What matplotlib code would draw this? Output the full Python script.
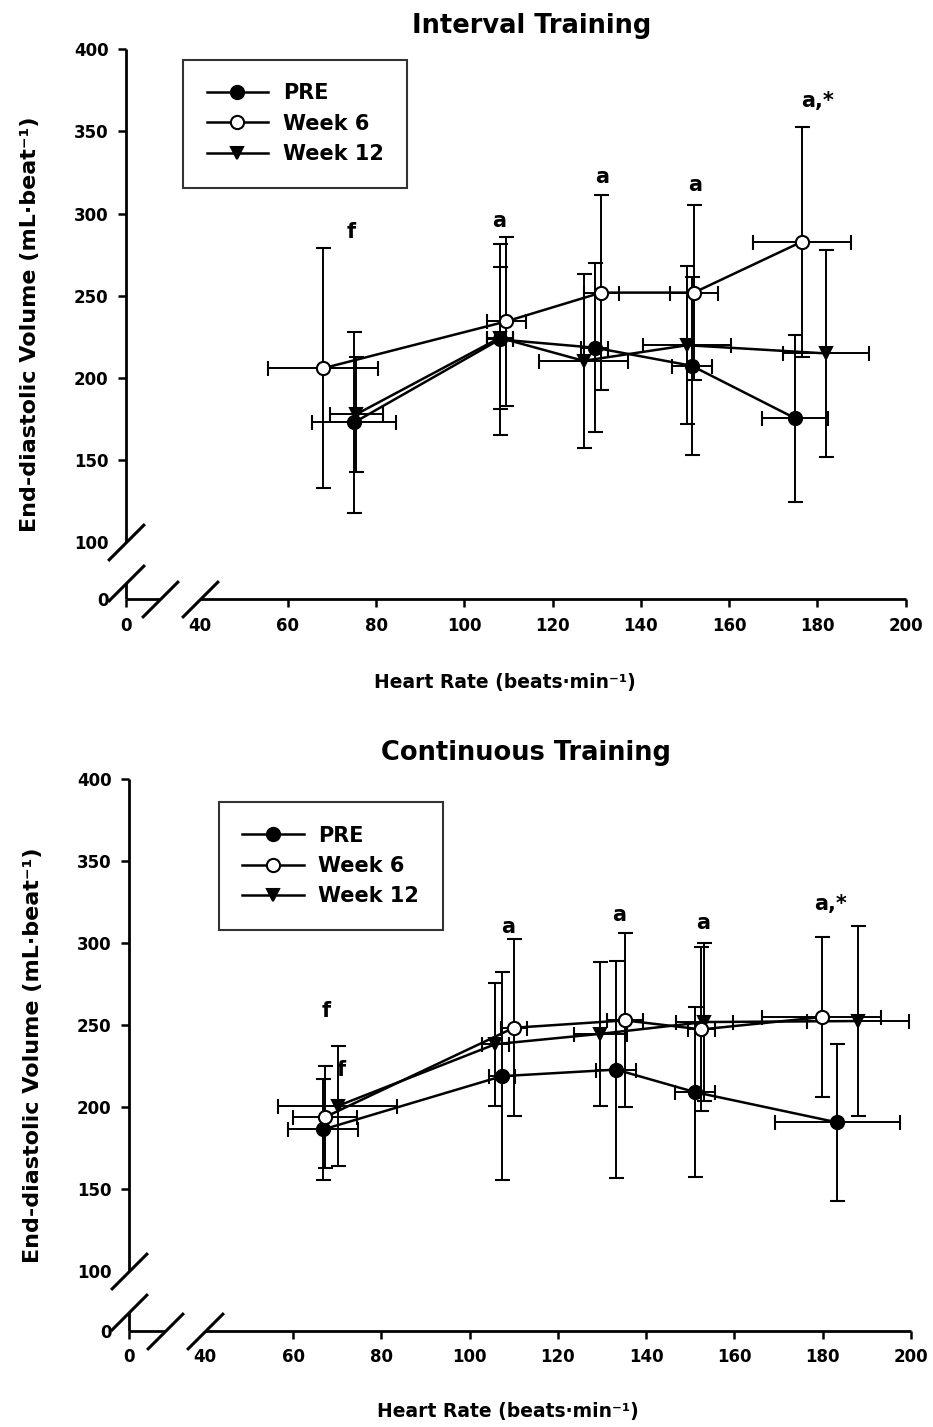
import matplotlib
matplotlib.use("Agg")
import matplotlib.pyplot as plt
from matplotlib.lines import Line2D
from matplotlib.path import Path

plt.rcParams['font.family'] = ['DejaVu Sans']
plt.rcParams['font.weight'] = 'bold'

# ---------------- data: Interval Training ----------------
int_pre_hr = [75, 108, 129.5, 151.5, 175]
int_pre_hr_sd = [9.5, 3, 3, 4.5, 7.5]
int_pre_edv = [173, 223.5, 218.5, 207.5, 175.5]
int_pre_edv_sd = [55, 58, 51.5, 54, 51]

int_w6_hr = [68, 109.5, 131, 152, 176.5]
int_w6_hr_sd = [12.5, 4.5, 4, 5.5, 11]
int_w6_edv = [206, 234.5, 252, 252, 283]
int_w6_edv_sd = [73, 51.5, 59.5, 53, 70]

int_w12_hr = [75.5, 108, 127, 150.5, 182]
int_w12_hr_sd = [6, 3, 10, 10, 9.7]
int_w12_edv = [178, 224.5, 210.5, 220, 215]
int_w12_edv_sd = [35, 43, 53, 48, 63]

int_marks = ['f', 'a', 'a', 'a', 'a,*']

# ---------------- data: Continuous Training ----------------
con_pre_hr = [66.8, 107.3, 133.2, 151, 183.3]
con_pre_hr_sd = [7.9, 3, 4.5, 4.5, 14.2]
con_pre_edv = [186.5, 219, 223, 209.3, 190.8]
con_pre_edv_sd = [31, 63.5, 66, 52, 48]

con_w6_hr = [67.2, 110, 135.2, 152.5, 179.8]
con_w6_hr_sd = [7.2, 3, 4, 3, 13.5]
con_w6_edv = [194, 248.5, 253, 247.5, 255]
con_w6_edv_sd = [31, 54, 53, 50, 49]

con_w12_hr = [70.1, 105.8, 129.6, 153.2, 188]
con_w12_hr_sd = [13.5, 3, 6, 6.5, 11.6]
con_w12_edv = [200.8, 238.5, 244.8, 252, 252.6]
con_w12_edv_sd = [36.5, 37.5, 44, 48, 58]

con_marks = ['f', 'f', 'a', 'a', 'a', 'a,*']

series_labels = ['PRE', 'Week 6', 'Week 12']
x_ticks = [60, 80, 100, 120, 140, 160, 180, 200]
y_ticks = [100, 150, 200, 250, 300, 350, 400]

# ---------------- figure ----------------
W, H, DPI = 933, 1427, 100
fig = plt.figure(figsize=(W / DPI, H / DPI), dpi=DPI)


def fx(px):
    return px / W


def fy(py):
    return 1 - py / H


SLASH = Path([(-1, -1), (1, 1)], [Path.MOVETO, Path.LINETO])
STYLES = [dict(marker='o', mfc='black', ms=9.5),
          dict(marker='o', mfc='white', ms=9.5),
          dict(marker='v', mfc='black', ms=9)]


def panel(box, xlo, ylo, series, marks, mark_pos, title, title_xy,
          xlabel_xy, ylabel_xy, legend_xy):
    left, top, right, bottom = box
    ax = fig.add_axes([fx(left), fy(bottom), fx(right - left),
                       (bottom - top) / H])
    ax.set_xlim(xlo, 200)
    ax.set_ylim(ylo, 400)
    for s in ax.spines.values():
        s.set_visible(False)

    lw_axis = 2.0
    # broken axes: main parts, short stubs near the origin, and slash marks
    ax.plot([xlo, xlo], [100, 400], color='black', lw=lw_axis,
            clip_on=False, solid_capstyle='butt')
    ax.plot([xlo, xlo], [ylo, 75.4], color='black', lw=lw_axis,
            clip_on=False, solid_capstyle='butt')
    ax.plot([40, 200], [ylo, ylo], color='black', lw=lw_axis,
            clip_on=False, solid_capstyle='butt')
    ax.plot([xlo, 31.0], [ylo, ylo], color='black', lw=lw_axis,
            clip_on=False, solid_capstyle='butt')
    ax.plot([xlo, xlo, 31.0, 40.0], [100, 75.4, ylo, ylo], ls='none',
            marker=SLASH, ms=26.5, mew=2.2, mec='black', clip_on=False)

    ax.set_xticks([xlo, 40] + x_ticks)
    ax.set_xticklabels(['0', '40'] + [str(t) for t in x_ticks])
    ax.set_yticks([ylo] + y_ticks)
    ax.set_yticklabels(['0'] + [str(t) for t in y_ticks])
    ax.tick_params(direction='out', length=5.5, width=1.8, labelsize=12,
                   pad=7)
    ax.xaxis.get_major_ticks()[1].tick1line.set_visible(False)
    yt = ax.yaxis.get_major_ticks()
    yt[0].tick1line.set_visible(False)
    yt[1].tick1line.set_visible(False)
    for lab in ax.get_xticklabels() + ax.get_yticklabels():
        lab.set_fontweight('bold')

    handles = []
    for (hr, hr_sd, edv, edv_sd), st, lab, z in zip(series, STYLES,
                                                     series_labels, [3, 5, 4]):
        ax.errorbar(hr, edv, xerr=hr_sd, yerr=edv_sd, color='black',
                    lw=1.8, elinewidth=1.4, capsize=5.4, capthick=1.4,
                    marker=st['marker'], ms=st['ms'], mfc=st['mfc'],
                    mec='black', mew=1.5, clip_on=False, zorder=z)
        handles.append(Line2D([], [], color='black', lw=1.8,
                              marker=st['marker'], ms=st['ms'],
                              mfc=st['mfc'], mec='black', mew=1.5,
                              label=lab))

    for txt, (mx, my) in zip(marks, mark_pos):
        ax.text(mx, my, txt, ha='center', va='baseline', fontsize=15,
                fontweight='bold', zorder=6)

    leg = ax.legend(handles=handles, loc='upper left',
                    bbox_to_anchor=(fx(legend_xy[0]), fy(legend_xy[1])),
                    bbox_transform=fig.transFigure, borderaxespad=0,
                    prop={'weight': 'bold', 'size': 15}, frameon=True,
                    fancybox=False, edgecolor='black', borderpad=1.12,
                    labelspacing=0.5, handlelength=2.95,
                    handletextpad=0.7, numpoints=1)
    leg.get_frame().set_linewidth(1.5)

    fig.text(fx(title_xy[0]), fy(title_xy[1]), title, ha='center',
             va='baseline', fontsize=18.5, fontweight='bold')
    fig.text(fx(xlabel_xy[0]), fy(xlabel_xy[1]),
             'Heart Rate (beats\u00b7min\u207b\u00b9)', ha='center',
             va='baseline', fontsize=13.5, fontweight='bold')
    fig.text(fx(ylabel_xy[0]), fy(ylabel_xy[1]),
             'End-diastolic Volume (mL\u00b7beat\u207b\u00b9)', ha='center',
             va='center', rotation=90, fontsize=16, fontweight='bold')
    return ax


int_series = [
    (int_pre_hr, int_pre_hr_sd, int_pre_edv, int_pre_edv_sd),
    (int_w6_hr, int_w6_hr_sd, int_w6_edv, int_w6_edv_sd),
    (int_w12_hr, int_w12_hr_sd, int_w12_edv, int_w12_edv_sd),
]
con_series = [
    (con_pre_hr, con_pre_hr_sd, con_pre_edv, con_pre_edv_sd),
    (con_w6_hr, con_w6_hr_sd, con_w6_edv, con_w6_edv_sd),
    (con_w12_hr, con_w12_hr_sd, con_w12_edv, con_w12_edv_sd),
]

panel((126, 49.3, 905.7, 599.3), 23.3, 65.45, int_series, int_marks,
      [(74.4, 285), (107.8, 292), (131.1, 318.6), (152.3, 314), (180, 365)],
      'Interval Training', (532, 33), (505, 688), (30, 324.3),
      (183.3, 60))

con_ax = panel((129, 779.3, 911, 1330.7), 22.8, 63.8, con_series, con_marks,
               [(67.5, 255), (70.8, 218.8), (108.7, 306), (133.9, 313.6),
                (153, 308.7), (181.7, 320.4)],
               'Continuous Training', (526, 760), (508, 1417),
               (33, 1055), (219, 802.3))
# the second 'f' sits behind the Week 12 error bar
con_ax.texts[1].set_zorder(1)

fig.savefig('out.png', dpi=DPI)
